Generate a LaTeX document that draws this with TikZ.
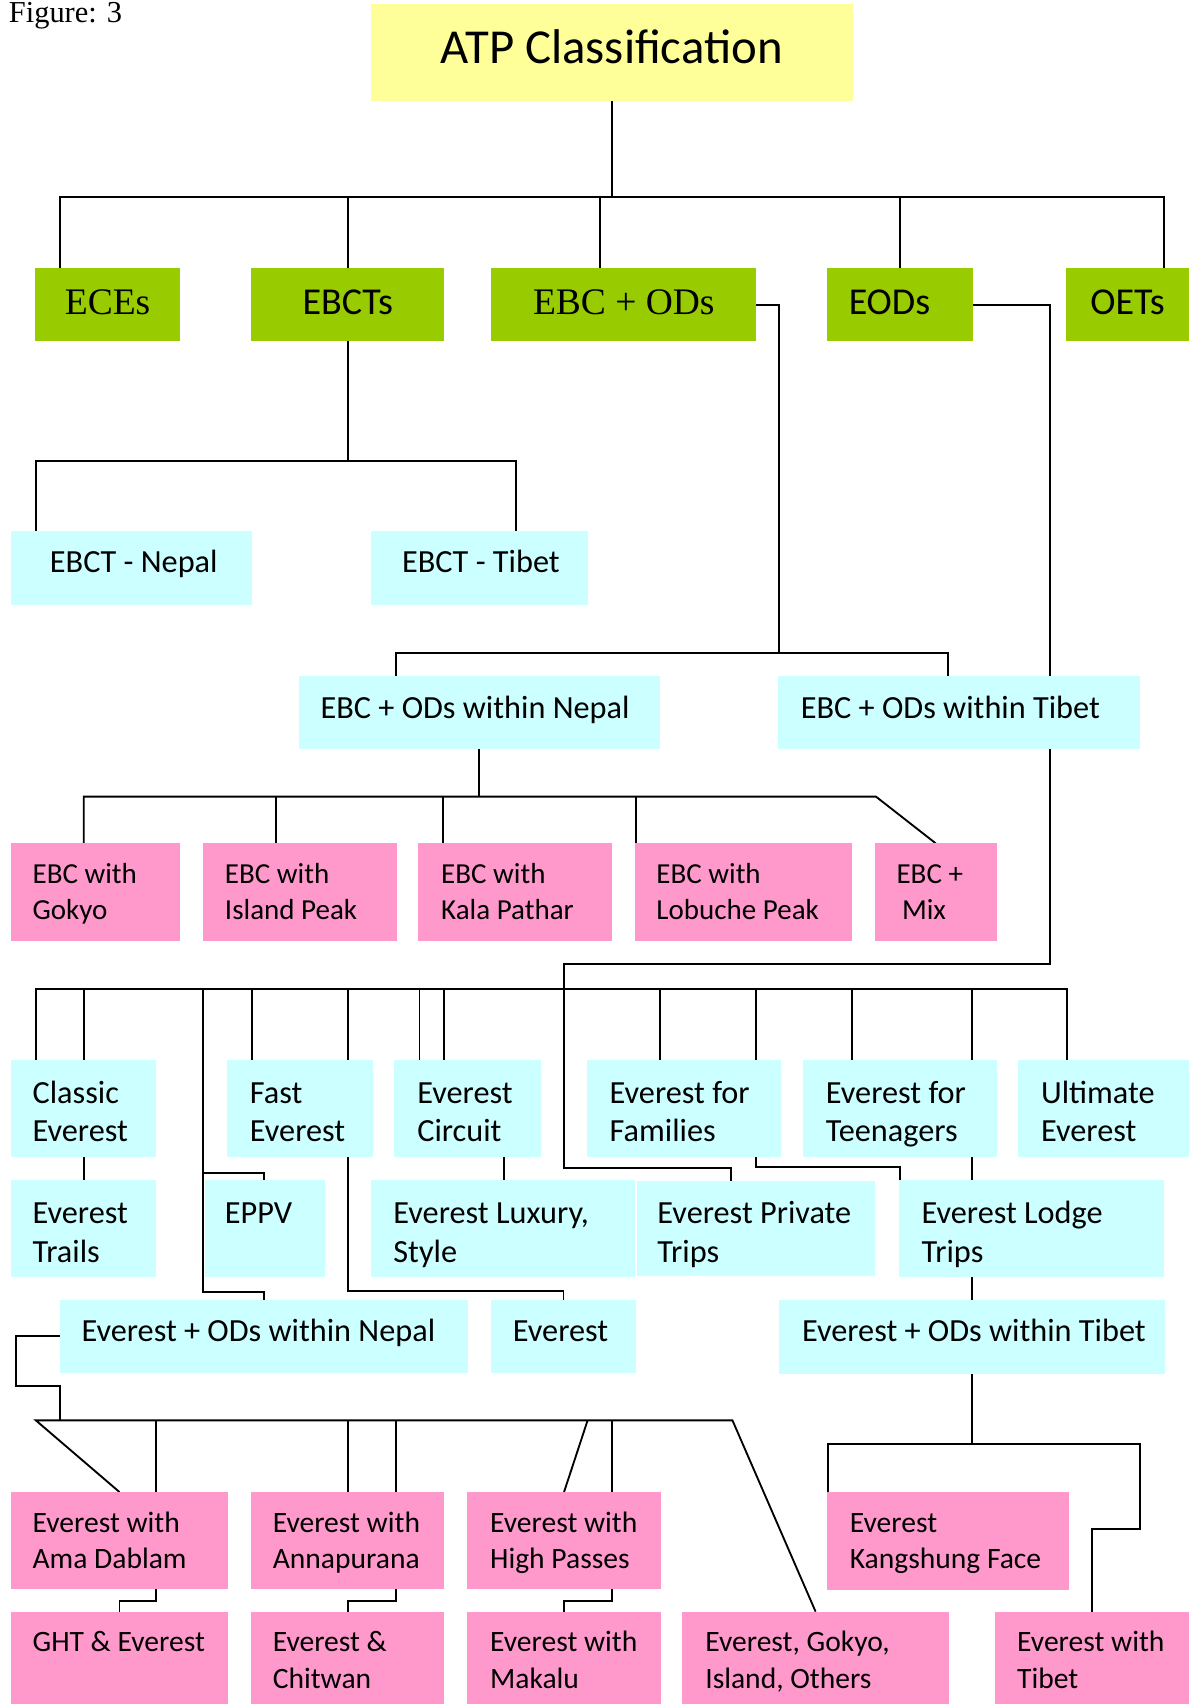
\documentclass[tikz,border=0pt]{standalone}
\usepackage{fontspec}
\usetikzlibrary{backgrounds}
\newfontfamily\calf{Carlito}
\newfontfamily\timesf{Liberation Serif}
\definecolor{atpyellow}{HTML}{FFFF99}
\definecolor{atpgreen}{HTML}{99CC00}
\definecolor{atpcyan}{HTML}{CCFFFF}
\definecolor{atppink}{HTML}{FF99CC}
\newcommand\fntA{\calf\fontsize{29.7}{35.7}\selectfont}
\newcommand\fntP{\calf\fontsize{26.7}{32.8}\selectfont}
\newcommand\fntD{\calf\fontsize{27.2}{33.7}\selectfont}
% #1 name #2 x1 #3 y1 #4 x2 #5 y2 #6 style #7 left pad #8 first baseline #9 text
\newcommand\bx[9]{%
  \node[#6, anchor=north west, inner sep=0pt, outer sep=0pt] (#1) at (#2,#3)
  {\parbox[t][\dimexpr#5pt-#3pt\relax][t]{\dimexpr#4pt-#2pt\relax}{\raggedright\leftskip=#7pt\relax\noindent\rule{0pt}{#8pt}#9}};%
}
\tikzset{
  yel/.style={fill=atpyellow, font=\calf\fontsize{44.9}{53}\selectfont},
  grnserif/.style={fill=atpgreen, font=\timesf\fontsize{34.5}{40}\selectfont},
  grnsans/.style={fill=atpgreen, font=\calf\fontsize{35}{40}\selectfont},
  cyanA/.style={fill=atpcyan, font=\fntA},
  pinkP/.style={fill=atppink, font=\fntP},
  pinkD/.style={fill=atppink, font=\fntD},
  conn/.style={line width=1.7pt, line join=miter, draw=black},
}
\begin{document}
\begin{tikzpicture}[x=1pt,y=-1pt]
\useasboundingbox (0,0) rectangle (1094,1568);
\node[anchor=base west, inner sep=0pt, font=\timesf\fontsize{28}{30}\selectfont] (fig) at (8,20.5) {Figure: 3};

\bx{atp}{341}{4}{785}{93}{yel}{0}{54}{\centering ATP Classification}

\bx{eces}{32}{247}{166}{314}{grnserif}{0}{42}{\centering ECEs}
\bx{ebcts}{231}{247}{409}{314}{grnsans}{0}{42}{\centering EBCTs}
\bx{ebcod}{452}{247}{696}{314}{grnserif}{0}{42}{\centering EBC + ODs}
\bx{eods}{761}{247}{895}{314}{grnsans}{20}{42}{EODs}
\bx{oets}{981}{247}{1094}{314}{grnsans}{0}{42}{\centering OETs}

\bx{ebctn}{10}{489}{232}{557}{cyanA}{36}{38}{EBCT - Nepal}
\bx{ebctt}{341}{489}{541}{557}{cyanA}{29}{38}{EBCT - Tibet}

\bx{nepal}{275}{622}{607}{689}{cyanA}{20}{39}{EBC + ODs within Nepal}
\bx{tibet}{716}{622}{1049}{689}{cyanA}{21}{39}{EBC + ODs within Tibet}

\bx{gokyo}{10}{776}{166}{866}{pinkP}{20}{37}{EBC with\\Gokyo}
\bx{island}{187}{776}{365}{866}{pinkP}{20}{37}{EBC with\\Island Peak}
\bx{kala}{385}{776}{563}{866}{pinkP}{21}{37}{EBC with\\Kala Pathar}
\bx{lobuche}{584}{776}{784}{866}{pinkP}{20}{37}{EBC with\\Lobuche Peak}
\bx{mix}{805}{776}{917}{866}{pinkP}{20}{37}{EBC +\\\hspace*{5pt}Mix}

\bx{classic}{10}{975}{144}{1065}{cyanA}{20}{40}{Classic\\Everest}
\bx{fast}{209}{975}{343}{1065}{cyanA}{21}{40}{Fast\\Everest}
\bx{circuit}{363}{975}{498}{1065}{cyanA}{21}{40}{Everest\\Circuit}
\bx{families}{540}{975}{719}{1065}{cyanA}{21}{40}{Everest for\\Families}
\bx{teen}{739}{975}{917}{1065}{cyanA}{21}{40}{Everest for\\Teenagers}
\bx{ultimate}{937}{975}{1094}{1065}{cyanA}{21}{40}{Ultimate\\Everest}

\bx{trails}{10}{1086}{144}{1175}{cyanA}{20}{40}{Everest\\Trails}
\bx{eppv}{188.5}{1086}{299}{1175}{cyanA}{18.5}{40}{EPPV}
\bx{luxury}{341}{1086}{584}{1175}{cyanA}{21}{40}{Everest Luxury,\\Style}
\bx{private}{586}{1087}{805}{1174}{cyanA}{19}{39}{Everest Private\\Trips}
\bx{lodge}{827}{1086}{1071}{1175}{cyanA}{21}{40}{Everest Lodge\\Trips}

\bx{odn}{55}{1196}{431}{1263}{cyanA}{20}{38}{Everest + ODs within Nepal}
\bx{everest}{452}{1196}{585}{1263}{cyanA}{20}{38}{Everest}
\bx{odt}{717}{1196}{1072}{1264}{cyanA}{21}{38}{Everest + ODs within Tibet}

\bx{ama}{10}{1373}{210}{1462}{pinkD}{20}{37}{Everest with\\Ama Dablam}
\bx{anna}{231}{1373}{409}{1462}{pinkD}{20}{37}{Everest with\\Annapurana}
\bx{high}{430}{1373}{608}{1462}{pinkD}{21}{37}{Everest with\\High Passes}
\bx{kang}{761}{1373}{984}{1463}{pinkD}{21}{37}{Everest\\Kangshung Face}

\bx{ght}{10}{1483}{210}{1568}{pinkD}{20}{37}{GHT \& Everest}
\bx{chitwan}{231}{1483}{409}{1568}{pinkD}{20}{37}{Everest \&\\Chitwan}
\bx{makalu}{430}{1483}{608}{1568}{pinkD}{21}{37}{Everest with\\Makalu}
\bx{others}{628}{1483}{873}{1568}{pinkD}{21}{37}{Everest, Gokyo,\\Island, Others}
\bx{etibet}{916}{1483}{1094}{1568}{pinkD}{20}{37}{Everest with\\Tibet}

\begin{pgfonlayer}{background}
% level 1
\coordinate (t1) at (55,181); \coordinate (t2) at (1071,181); \coordinate (t3) at (552,181);
\draw[conn] (atp.south) -- (atp.south |- t1);
\draw[conn] (t1 |- eces.north) -- (t1) -- (t2) -- (t2 |- oets.north);
\draw[conn] (ebcts.north |- t1) -- (ebcts.north);
\draw[conn] (t3) -- (t3 |- ebcod.north);
\draw[conn] (eods.north |- t1) -- (eods.north);
% EBCTs
\coordinate (w1) at (33,424); \coordinate (w2) at (475,424);
\draw[conn] (ebcts.south) -- (ebcts.south |- w1);
\draw[conn] (w1 |- ebctn.north) -- (w1) -- (w2) -- (w2 |- ebctt.north);
% EBC + ODs
\coordinate (u1) at (717,601); \coordinate (u2) at (364,601); \coordinate (u3) at (872,601);
\draw[conn] (ebcod.east) -| (u1);
\draw[conn] (u2 |- nepal.north) -- (u2) -- (u3) -- (u3 |- tibet.north);
% EODs
\coordinate (v1) at (966,887); \coordinate (v2) at (519,1075); \coordinate (v3) at (673,1075);
\draw[conn] (eods.east) -| (v1) -| (v2) -- (v3) -- (v3 |- private.north);
% EBC + ODs within Nepal
\coordinate (x1) at (77,733); \coordinate (x2) at (806,733);
\coordinate (x3) at (254,733); \coordinate (x4) at (408,733); \coordinate (x5) at (585,733);
\draw[conn] (nepal.south) -- (nepal.south |- x1);
\draw[conn] (x1 |- gokyo.north) -- (x1) -- (x2) -- (mix.north);
\draw[conn] (x3) -- (x3 |- island.north);
\draw[conn] (x4) -- (x4 |- kala.north);
\draw[conn] (x5) -- (x5 |- lobuche.north);
% big bus
\coordinate (y1) at (33,910); \coordinate (y2) at (982,910);
\draw[conn] (y1 |- classic.north) -- (y1) -- (y2) -- (y2 |- ultimate.north);
\foreach \xx/\nn in {77/classic, 232/fast, 320/fast, 386/circuit, 408.5/circuit, 607/families, 695.4/families, 784/teen, 894.5/teen}
  \draw[conn] (\xx,910) -- (\xx,910 |- \nn.north);
\coordinate (z1) at (187,910); \coordinate (z2) at (187,1189); \coordinate (z3) at (243,1189);
\coordinate (z4) at (187,1079); \coordinate (z5) at (243,1079);
\draw[conn] (z1) -- (z2) -- (z3) -- (z3 |- odn.north);
\draw[conn] (z4) -- (z5) -- (z5 |- eppv.north);
\coordinate (f1) at (320,1188);
\draw[conn] (f1 |- fast.south) -- (f1) -| (everest.north);
\draw[conn] (x1 |- classic.south) -- (x1 |- trails.north);
\coordinate (c1) at (464,1000);
\draw[conn] (c1 |- circuit.south) -- (c1 |- luxury.north);
\coordinate (g1) at (695.4,1073.5); \coordinate (g2) at (828,1073.5);
\draw[conn] (g1 |- families.south) -- (g1) -- (g2) -- (g2 |- lodge.north);
\draw[conn] (odt.north |- teen.south) -- (odt.north |- lodge.north);
\draw[conn] (odt.north |- lodge.south) -- (odt.north);
% Everest + ODs within Nepal
\coordinate (n1) at (14.6,1275.6); \coordinate (n2) at (55,1307);
\coordinate (n3) at (33,1307); \coordinate (n4) at (674,1307);
\draw[conn] (odn.west) -| (n1) -| (n2);
\draw[conn] (ama.north) -- (n3) -- (n4) -- (others.north);
\coordinate (m1) at (143.7,1307); \coordinate (m2) at (320,1307); \coordinate (m3) at (364.4,1307);
\coordinate (m4) at (540.7,1307); \coordinate (m5) at (563,1307);
\draw[conn] (m1) -- (m1 |- ama.north);
\draw[conn] (m2) -- (m2 |- anna.north);
\draw[conn] (m3) -- (m3 |- anna.north);
\draw[conn] (m4) -- (high.north);
\draw[conn] (m5) -- (m5 |- high.north);
% row D to row E
\coordinate (d1) at (143.7,1473); \coordinate (d2) at (364.4,1473); \coordinate (d3) at (563,1473);
\draw[conn] (d1 |- ama.south) -- (d1) -| (ght.north);
\draw[conn] (d2 |- anna.south) -- (d2) -| (chitwan.north);
\draw[conn] (d3 |- high.south) -- (d3) -| (makalu.north);
% Everest + ODs within Tibet
\coordinate (k1) at (761.6,1329); \coordinate (k2) at (1049,1329); \coordinate (k3) at (1049,1406.6);
\draw[conn] (odt.south) -- (odt.south |- k1);
\draw[conn] (k1 |- kang.north) -- (k1) -- (k2) -- (k3) -| (etibet.north);
\end{pgfonlayer}
\end{tikzpicture}
\end{document}
